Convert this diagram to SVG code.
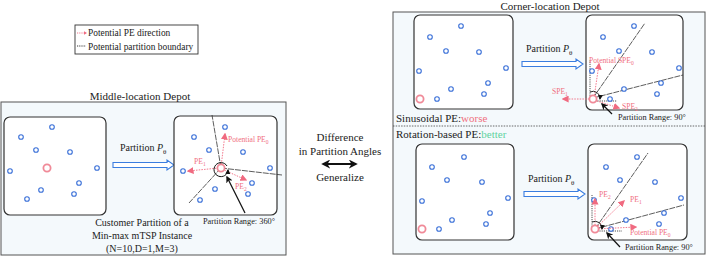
<svg xmlns="http://www.w3.org/2000/svg" width="706" height="256" viewBox="0 0 706 256">
<style>
text{font-family:"Liberation Serif","Times New Roman",serif;fill:#222}
.t11{font-size:11px}
.t10{font-size:10px}
.t9{font-size:9.4px}
.t85{font-size:8.3px}
.pk{fill:#f0707f;font-size:7.6px}
.outer{fill:#f4f9fc;stroke:#555;stroke-width:1}
.inner{fill:#fff;stroke:#333;stroke-width:1.2}
.c{fill:#fff;stroke:#3a70d8;stroke-width:1.1}
.d{fill:#fff;stroke:#f08a98;stroke-width:1.8}
.hol{fill:#fff;stroke:#3a7de0;stroke-width:1.1}
.pe{stroke:#f06a80;stroke-width:0.9;stroke-dasharray:1.5 1.2;fill:none;marker-end:url(#pa)}
.bd{stroke:#333;stroke-width:0.8;stroke-dasharray:6 1;fill:none}
.bdot{stroke:#222;stroke-width:0.8;stroke-dasharray:1.2 1;fill:none}
.ba{stroke:#111;stroke-width:1.2;fill:none;marker-end:url(#ka)}
.sep{stroke:#444;stroke-width:0.8;stroke-dasharray:1.5 1.2}
</style>
<defs>
<marker id="pa" viewBox="0 0 10 10" refX="8" refY="5" markerWidth="7" markerHeight="7" orient="auto" markerUnits="userSpaceOnUse"><path d="M0,0 L10,5 L0,10 z" fill="#f06a80"/></marker>
<marker id="ka" viewBox="0 0 10 10" refX="8" refY="5" markerWidth="7" markerHeight="7" orient="auto" markerUnits="userSpaceOnUse"><path d="M0,0 L10,5 L0,10 L3,5 z" fill="#111"/></marker>
<marker id="kd" viewBox="0 0 10 10" refX="8" refY="5" markerWidth="9" markerHeight="9" orient="auto-start-reverse" markerUnits="userSpaceOnUse"><path d="M0,0 L10,5 L0,10 L3,5 z" fill="#111"/></marker>
<marker id="ks" viewBox="0 0 10 10" refX="8" refY="5" markerWidth="5" markerHeight="5" orient="auto" markerUnits="userSpaceOnUse"><path d="M0,0 L10,5 L0,10 z" fill="#111"/></marker>
</defs>

<g id="legend">
<rect x="75" y="25" width="123" height="29" fill="#fff" stroke="#333" stroke-width="0.9"/>
<line x1="77" y1="33" x2="86" y2="33" stroke="#f06a80" stroke-width="0.9" stroke-dasharray="1.2 1"/>
<path d="M84,31.3 L87,33 L84,34.7z" fill="#f06a80"/>
<line x1="77" y1="46" x2="86" y2="46" stroke="#222" stroke-width="0.9" stroke-dasharray="1.2 1"/>
<text class="t9" x="88" y="36">Potential PE direction</text>
<text class="t9" x="88" y="49.5">Potential partition boundary</text>
</g>

<g id="middle-depot">
<rect class="outer" x="1" y="102" width="285" height="153"/>
<text class="t11" x="140" y="100" text-anchor="middle">Middle-location Depot</text>
<g id="mid-instance">
<rect class="inner" x="4" y="117" width="102" height="98" rx="6"/>
<circle class="c" cx="52" cy="127" r="2.3"/><circle class="c" cx="21" cy="137" r="2.3"/>
<circle class="c" cx="36" cy="150" r="2.3"/><circle class="c" cx="70" cy="152" r="2.3"/>
<circle class="c" cx="10" cy="171" r="2.3"/><circle class="c" cx="97" cy="168" r="2.3"/>
<circle class="c" cx="79" cy="183" r="2.3"/><circle class="c" cx="41" cy="190" r="2.3"/>
<circle class="c" cx="74" cy="194" r="2.3"/><circle class="c" cx="27" cy="199" r="2.3"/>
<circle class="d" cx="47" cy="168" r="3.6"/>
</g>
<g id="mid-arrow">
<text class="t10" x="120" y="151">Partition <tspan font-style="italic">P</tspan><tspan font-size="7" dy="2.5">θ</tspan></text>
<path class="hol" d="M113,162.5 H167 V160 L174,165 L167,170 V167.5 H113 Z"/>
</g>
<g id="mid-partition">
<rect class="inner" x="174" y="116" width="103" height="99" rx="6"/>
<line class="bd" x1="221" y1="168" x2="212" y2="115"/>
<line class="bd" x1="221" y1="168" x2="282" y2="175"/>
<line class="bd" x1="221" y1="168" x2="189" y2="203"/>
<circle class="c" cx="225" cy="127" r="2.3"/><circle class="c" cx="194" cy="137" r="2.3"/>
<circle class="c" cx="209" cy="150" r="2.3"/><circle class="c" cx="243" cy="152" r="2.3"/>
<circle class="c" cx="183" cy="171" r="2.3"/><circle class="c" cx="270" cy="168" r="2.3"/>
<circle class="c" cx="252" cy="183" r="2.3"/><circle class="c" cx="215" cy="189" r="2.3"/>
<circle class="c" cx="248" cy="194" r="2.3"/><circle class="c" cx="200" cy="200" r="2.3"/>
<line class="pe" x1="221" y1="167" x2="225" y2="134"/>
<line class="pe" x1="219" y1="168" x2="188" y2="171"/>
<line class="pe" x1="222" y1="169" x2="246" y2="180"/>
<circle class="d" cx="221" cy="168" r="3.6"/>
<path d="M227,166 A7,7 0 1 0 228,170" fill="none" stroke="#111" stroke-width="1" marker-end="url(#ks)"/>
<line class="ba" x1="245" y1="213" x2="227" y2="177"/>
<text class="pk" x="228" y="142">Potential PE<tspan font-size="5.5" dy="2">0</tspan></text>
<text class="pk" x="194" y="164">PE<tspan font-size="5.5" dy="2">1</tspan></text>
<text class="pk" x="235" y="189">PE<tspan font-size="5.5" dy="2">2</tspan></text>
<text class="t85" x="203" y="224">Partition Range: 360°</text>
</g>
<text class="t10" x="142" y="226" text-anchor="middle">Customer Partition of a</text>
<text class="t10" x="142" y="239" text-anchor="middle">Min-max mTSP Instance</text>
<text class="t10" x="142" y="252" text-anchor="middle">(N=10,D=1,M=3)</text>
</g>

<g id="link">
<text class="t11" x="340" y="141" text-anchor="middle">Difference</text>
<text class="t11" x="340" y="155" text-anchor="middle">in Partition Angles</text>
<line x1="323" y1="164" x2="356" y2="164" stroke="#111" stroke-width="2" marker-start="url(#kd)" marker-end="url(#kd)"/>
<text class="t11" x="340" y="181" text-anchor="middle">Generalize</text>
</g>

<g id="corner-depot">
<rect class="outer" x="393" y="12" width="312" height="242"/>
<text class="t11" x="550" y="10" text-anchor="middle">Corner-location Depot</text>
<line class="sep" x1="393" y1="126" x2="705" y2="126"/>

<g id="sin-instance">
<rect class="inner" x="414" y="15" width="99" height="94" rx="6"/>
<circle class="c" cx="461" cy="26" r="2.3"/><circle class="c" cx="430" cy="37" r="2.3"/>
<circle class="c" cx="446" cy="51" r="2.3"/><circle class="c" cx="479" cy="52" r="2.3"/>
<circle class="c" cx="419" cy="71" r="2.3"/><circle class="c" cx="506" cy="68" r="2.3"/>
<circle class="c" cx="488" cy="83" r="2.3"/><circle class="c" cx="451" cy="89" r="2.3"/>
<circle class="c" cx="484" cy="94" r="2.3"/><circle class="c" cx="437" cy="99" r="2.3"/>
<circle class="d" cx="420" cy="99" r="3.6"/>
</g>
<g id="sin-arrow">
<text class="t10" x="526" y="52">Partition <tspan font-style="italic">P</tspan><tspan font-size="7" dy="2.5">θ</tspan></text>
<path class="hol" d="M522,61.5 H576 V59 L583,64 L576,69 V66.5 H522 Z"/>
</g>
<g id="sin-partition">
<rect class="inner" x="586" y="15" width="97" height="95" rx="6"/>
<line class="bd" x1="593" y1="98" x2="645" y2="23"/>
<line class="bd" x1="593" y1="98" x2="683" y2="75"/>
<line class="bdot" x1="590" y1="98" x2="590" y2="60"/>
<line class="bdot" x1="593" y1="101" x2="617" y2="101"/>
<circle class="c" cx="634" cy="26" r="2.3"/><circle class="c" cx="603" cy="37" r="2.3"/>
<circle class="c" cx="619" cy="51" r="2.3"/><circle class="c" cx="652" cy="52" r="2.3"/>
<circle class="c" cx="592" cy="71" r="2.3"/><circle class="c" cx="679" cy="68" r="2.3"/>
<circle class="c" cx="661" cy="83" r="2.3"/><circle class="c" cx="624" cy="89" r="2.3"/>
<circle class="c" cx="657" cy="94" r="2.3"/><circle class="c" cx="610" cy="99" r="2.3"/>
<line class="pe" x1="594" y1="98" x2="599" y2="64"/>
<line class="pe" x1="592" y1="99" x2="563" y2="99"/>
<line class="pe" x1="594" y1="100" x2="619" y2="108"/>
<circle class="d" cx="593" cy="99" r="3.6"/>
<path d="M590,92 A7,7 0 0 1 600,99" fill="none" stroke="#111" stroke-width="0.9" marker-end="url(#ks)"/>
<line class="ba" x1="612" y1="114" x2="602" y2="104"/>
<text class="pk" x="589" y="63">Potential SPE<tspan font-size="5.5" dy="2">0</tspan></text>
<text class="pk" x="552" y="94">SPE<tspan font-size="5.5" dy="2">1</tspan></text>
<text class="pk" x="622" y="109">SPE<tspan font-size="5.5" dy="2">2</tspan></text>
<text class="t85" x="618" y="120">Partition Range: 90°</text>
</g>
<text class="t11" x="396" y="122">Sinusoidal PE:<tspan fill="#f0707f">worse</tspan></text>

<text class="t11" x="396" y="138">Rotation-based PE:<tspan fill="#5fd3a0">better</tspan></text>
<g id="rot-instance">
<rect class="inner" x="416" y="144" width="98" height="96" rx="6"/>
<circle class="c" cx="464" cy="157" r="2.3"/><circle class="c" cx="432" cy="167" r="2.3"/>
<circle class="c" cx="447" cy="180" r="2.3"/><circle class="c" cx="482" cy="182" r="2.3"/>
<circle class="c" cx="422" cy="201" r="2.3"/><circle class="c" cx="508" cy="198" r="2.3"/>
<circle class="c" cx="490" cy="213" r="2.3"/><circle class="c" cx="452" cy="220" r="2.3"/>
<circle class="c" cx="486" cy="224" r="2.3"/><circle class="c" cx="439" cy="229" r="2.3"/>
<circle class="d" cx="422" cy="229" r="3.6"/>
</g>
<g id="rot-arrow">
<text class="t10" x="528" y="182">Partition <tspan font-style="italic">P</tspan><tspan font-size="7" dy="2.5">θ</tspan></text>
<path class="hol" d="M524,191.5 H578 V189 L585,194 L578,199 V196.5 H524 Z"/>
</g>
<g id="rot-partition">
<rect class="inner" x="588" y="144" width="99" height="96" rx="6"/>
<line class="bd" x1="595" y1="229" x2="648" y2="153"/>
<line class="bd" x1="595" y1="229" x2="684" y2="205"/>
<line class="bdot" x1="592" y1="229" x2="592" y2="195"/>
<line class="bdot" x1="595" y1="231" x2="622" y2="231"/>
<circle class="c" cx="637" cy="157" r="2.3"/><circle class="c" cx="606" cy="167" r="2.3"/>
<circle class="c" cx="620" cy="180" r="2.3"/><circle class="c" cx="655" cy="182" r="2.3"/>
<circle class="c" cx="594" cy="200" r="2.3"/><circle class="c" cx="681" cy="198" r="2.3"/>
<circle class="c" cx="664" cy="213" r="2.3"/><circle class="c" cx="626" cy="220" r="2.3"/>
<circle class="c" cx="659" cy="224" r="2.3"/><circle class="c" cx="611" cy="229" r="2.3"/>
<line class="pe" x1="595" y1="228" x2="595" y2="199"/>
<line class="pe" x1="596" y1="228" x2="624" y2="201"/>
<line class="pe" x1="596" y1="229" x2="636" y2="227"/>
<circle class="d" cx="595" cy="229" r="3.6"/>
<path d="M592,222 A7,7 0 0 1 602,229" fill="none" stroke="#111" stroke-width="0.9" marker-end="url(#ks)"/>
<line class="ba" x1="620" y1="247" x2="607" y2="233"/>
<text class="pk" x="599" y="197">PE<tspan font-size="5.5" dy="2">2</tspan></text>
<text class="pk" x="630" y="202">PE<tspan font-size="5.5" dy="2">1</tspan></text>
<text class="pk" x="630" y="235">Potential PE<tspan font-size="5.5" dy="2">0</tspan></text>
<text class="t85" x="625" y="250">Partition Range: 90°</text>
</g>
</g>
</svg>
